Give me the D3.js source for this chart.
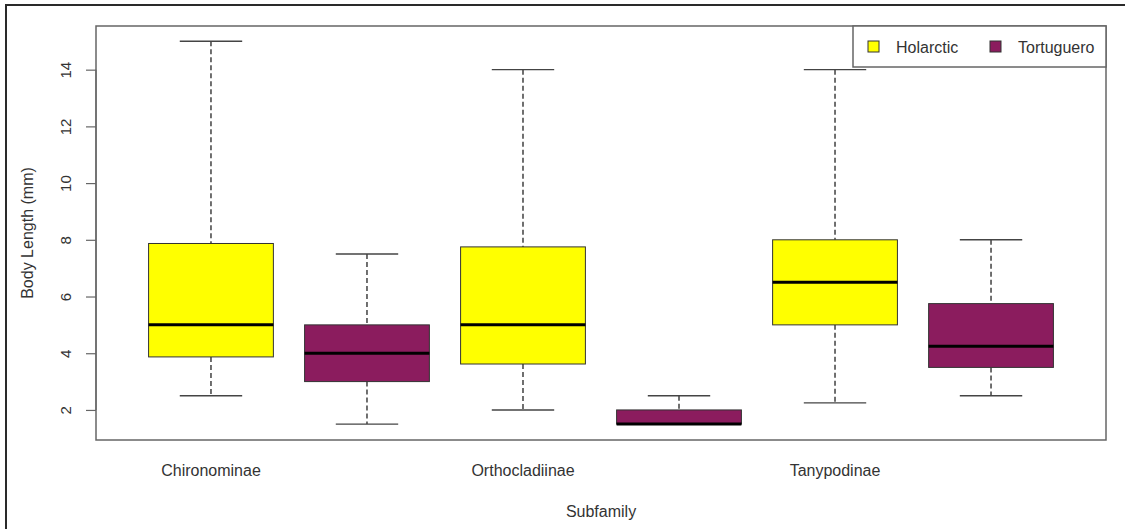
<!DOCTYPE html>
<html>
<head>
<meta charset="utf-8">
<script src="https://cdn.jsdelivr.net/npm/d3@7"></script>
<style>
  html, body { margin: 0; padding: 0; background: #fff; }
  svg { display: block; font-family: "Liberation Sans", Arial, sans-serif; }
</style>
</head>
<body>
<svg id="chart" width="1125" height="529"></svg>
<script>
// ---- data ----
const subfamilies = ["Chironominae", "Orthocladiinae", "Tanypodinae"];
const groups = ["Holarctic", "Tortuguero"];
const groupColors = ["#FFFF00", "#8B1C5E"];
// box order: Chir-Hol, Chir-Tort, Orth-Hol, Orth-Tort, Tany-Hol, Tany-Tort
const lowerWhisker = [2.5, 1.5, 2.0, 1.5, 2.25, 2.5];
const q1Values     = [3.87, 3.0, 3.62, 1.5, 5.0, 3.5];
const medianValues = [5.0, 4.0, 5.0, 1.5, 6.5, 4.25];
const q3Values     = [7.87, 5.0, 7.75, 2.0, 8.0, 5.75];
const upperWhisker = [15.0, 7.5, 14.0, 2.5, 14.0, 8.0];
const yTicks = [2, 4, 6, 8, 10, 12, 14];

const boxes = lowerWhisker.map((lo, i) => ({
  pos: i + 1,
  group: i % 2,
  lo, q1: q1Values[i], med: medianValues[i], q3: q3Values[i], hi: upperWhisker[i]
}));

// ---- layout ----
const L = 96, R = 1106, T = 26, B = 440;
const svg = d3.select("#chart");

const x = d3.scaleLinear().domain([0.263, 6.737]).range([L, R]);
const y = d3.scaleLinear().domain([0.94, 15.54]).range([B, T]);
const boxW = x(1.8) - x(1);

// outer frame
svg.append("rect").attr("x", 6).attr("y", 5).attr("width", 1140).attr("height", 560)
  .attr("fill", "none").attr("stroke", "#2a2a2a").attr("stroke-width", 2);

// boxes
const g = svg.append("g");
boxes.forEach(b => {
  const cx = x(b.pos);
  // whiskers dashed
  g.append("line").attr("x1", cx).attr("x2", cx).attr("y1", y(b.hi)).attr("y2", y(b.q3))
    .attr("stroke", "#333").attr("stroke-width", 1.4).attr("stroke-dasharray", "5,3");
  g.append("line").attr("x1", cx).attr("x2", cx).attr("y1", y(b.q1)).attr("y2", y(b.lo))
    .attr("stroke", "#333").attr("stroke-width", 1.4).attr("stroke-dasharray", "5,3");
  // caps
  [b.hi, b.lo].forEach(v => {
    g.append("line").attr("x1", cx - boxW / 4).attr("x2", cx + boxW / 4)
      .attr("y1", y(v)).attr("y2", y(v)).attr("stroke", "#444").attr("stroke-width", 1.4);
  });
  // box
  g.append("rect").attr("x", cx - boxW / 2).attr("width", boxW)
    .attr("y", y(b.q3)).attr("height", y(b.q1) - y(b.q3))
    .attr("fill", groupColors[b.group]).attr("stroke", "#333").attr("stroke-width", 1);
  // median
  g.append("line").attr("x1", cx - boxW / 2).attr("x2", cx + boxW / 2)
    .attr("y1", y(b.med)).attr("y2", y(b.med))
    .attr("stroke", "#000").attr("stroke-width", 3);
});

// plot border
svg.append("rect").attr("x", L).attr("y", T).attr("width", R - L).attr("height", B - T)
  .attr("fill", "none").attr("stroke", "#666").attr("stroke-width", 1.5);

// y axis (ticks + rotated labels)
const yAxis = svg.append("g").attr("transform", `translate(${L},0)`)
  .call(d3.axisLeft(y).tickValues(yTicks).tickSize(10).tickSizeOuter(0).tickFormat(d3.format("d")));
yAxis.select(".domain").attr("stroke", "#666").attr("stroke-width", 1.2)
  .attr("d", `M0,${y(2)}V${y(14)}`);
yAxis.selectAll(".tick line").attr("stroke", "#666").attr("stroke-width", 1.2);
yAxis.selectAll(".tick text")
  .attr("font-size", 15).attr("fill", "#333")
  .attr("font-family", "Liberation Sans, Arial, sans-serif")
  .attr("x", null).attr("dy", null)
  .attr("text-anchor", "middle")
  .attr("transform", "translate(-29,0) rotate(-90)")
  .attr("dominant-baseline", "middle");

// x category labels
const xLab = svg.append("g");
subfamilies.forEach((s, i) => {
  xLab.append("text").attr("x", x(i * 2 + 1)).attr("y", 476)
    .attr("text-anchor", "middle").attr("font-size", 16).attr("fill", "#333").text(s);
});

// axis titles
svg.append("text").attr("x", 601).attr("y", 517).attr("text-anchor", "middle")
  .attr("font-size", 16).attr("fill", "#333").text("Subfamily");
svg.append("text").attr("transform", `translate(33,${(T + B) / 2}) rotate(-90)`)
  .attr("text-anchor", "middle").attr("font-size", 16).attr("fill", "#333").text("Body Length (mm)");

// legend
const lg = svg.append("g");
lg.append("rect").attr("x", 853).attr("y", 26).attr("width", 253).attr("height", 41)
  .attr("fill", "#fff").attr("stroke", "#666").attr("stroke-width", 1.5);
const legendX = [868, 990];
groups.forEach((name, i) => {
  lg.append("rect").attr("x", legendX[i]).attr("y", 41).attr("width", 11).attr("height", 11)
    .attr("fill", groupColors[i]).attr("stroke", "#333").attr("stroke-width", 1);
  lg.append("text").attr("x", legendX[i] + 28).attr("y", 52.5)
    .attr("font-size", 16).attr("fill", "#333").text(name);
});
</script>
</body>
</html>
